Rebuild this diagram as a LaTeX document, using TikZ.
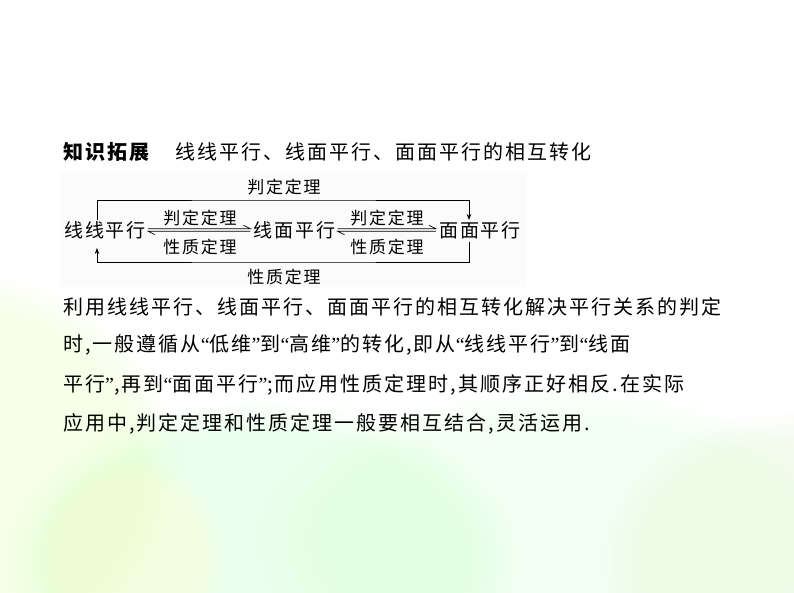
\documentclass[tikz,border=0pt]{standalone}
\usepackage{fontspec}
\setmainfont{Noto Sans CJK SC}
\newfontfamily\latf{Liberation Serif}
\newcommand\QL{{\latf “}}
\newcommand\QR{{\latf ”}}
\usetikzlibrary{arrows.meta,fadings,calc}
\begin{document}
\begin{tikzpicture}[x=1pt,y=1pt,
  para/.style={anchor=west,inner sep=0pt,font=\fontsize{20}{20}\selectfont\addfontfeature{LetterSpace=10}},
  term/.style={inner sep=0pt,font=\fontsize{19}{19}\selectfont\addfontfeature{LetterSpace=10}},
  lbl/.style={inner sep=0pt,font=\fontsize{17}{17}\selectfont\addfontfeature{LetterSpace=10}},
  conn/.style={line width=0.8pt,black},
  harp/.style={line width=0.7pt,black},
  blob/.style={path fading=circle with fuzzy edge 20 percent}]
\useasboundingbox (0,0) rectangle (794,-593);
\fill[white] (0,0) rectangle (794,-593);
% watercolor background
\fill[blob, green!30!yellow!25, opacity=0.35] (-40,-470) ellipse (220 and 200);
\fill[blob, green!40!white, opacity=0.18] (260,-560) ellipse (260 and 160);
\fill[blob, green!25!white, opacity=0.18] (560,-540) ellipse (300 and 150);
\fill[blob, yellow!40!green!20, opacity=0.3] (800,-560) ellipse (200 and 150);
\fill[blob, orange!15!yellow!20, opacity=0.35] (130,-560) ellipse (90 and 100);
% diagram backing
\fill[gray!3] (60,-173) rectangle (526,-287);
% title
\node[para,font=\fontsize{20}{20}\selectfont\bfseries\addfontfeature{LetterSpace=10}] (t1) at (63,-152) {知识拓展};
\node[para] (t2) at (175,-152) {线线平行、线面平行、面面平行的相互转化};
% diagram
\node[term] (a) at (105,-230) {线线平行};
\node[term] (b) at (294.5,-230) {线面平行};
\node[term] (c) at (480,-230) {面面平行};
% harpoon pairs
\draw[harp] ($(a.east)+(2,1.2)$) -- ($(b.west)+(-3,1.2)$) -- ++(-7,3.5);
\draw[harp] ($(b.west)+(-3,-1.2)$) -- ($(a.east)+(2,-1.2)$) -- ++(7,-3.5);
\draw[harp] ($(b.east)+(2,1.2)$) -- ($(c.west)+(-3,1.2)$) -- ++(-7,3.5);
\draw[harp] ($(c.west)+(-3,-1.2)$) -- ($(b.east)+(2,-1.2)$) -- ++(7,-3.5);
\node[lbl] (l1) at (200,-218) {判定定理};
\node[lbl] (l2) at (200,-247) {性质定理};
\node[lbl] (l3) at (387,-218) {判定定理};
\node[lbl] (l4) at (387,-247) {性质定理};
% outer loops
\coordinate (ta) at (97,-220);
\coordinate (tc) at (469,-220);
\coordinate (bc) at (469,-242);
\coordinate (ba) at (97,-248);
\draw[conn,-{Stealth[length=6pt,width=4.5pt]}] (ta) |- (284,-200) -| (tc);
\draw[conn,-{Stealth[length=6pt,width=4.5pt]}] (bc) |- (284,-262) -| (ba);
\node[lbl] (l5) at (284,-187) {判定定理};
\node[lbl] (l6) at (284,-277) {性质定理};
% paragraph
\node[para] (p1) at (63,-307) {利用线线平行、线面平行、面面平行的相互转化解决平行关系的判定};
\node[para] (p2) at (63,-345) {时,一般遵循从\QL 低维\QR 到\QL 高维\QR 的转化,即从\QL 线线平行\QR 到\QL 线面};
\node[para] (p3) at (63,-385) {平行\QR,再到\QL 面面平行\QR;而应用性质定理时,其顺序正好相反.在实际};
\node[para] (p4) at (63,-424) {应用中,判定定理和性质定理一般要相互结合,灵活运用.};
\end{tikzpicture}
\end{document}
